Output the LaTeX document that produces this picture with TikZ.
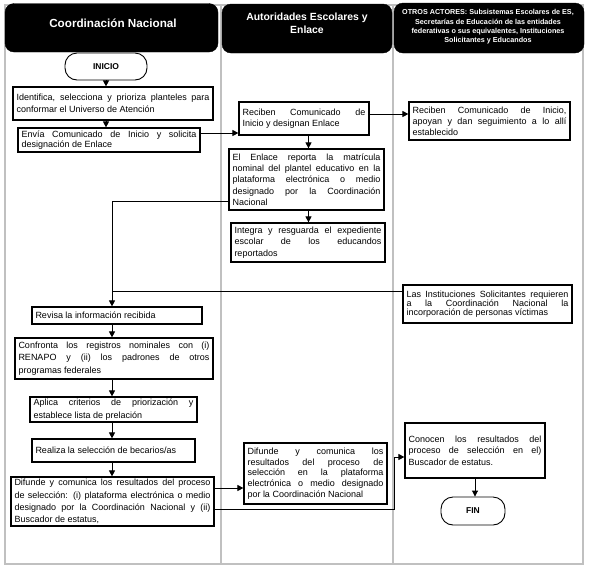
\documentclass[tikz,border=0pt]{standalone}
\usepackage{fontspec}
\setmainfont{Liberation Sans}
\usetikzlibrary{arrows.meta}
\definecolor{lanegray}{RGB}{192,192,192}
\tikzset{
  hdr/.style={fill=black, draw=black, rounded corners=9pt},
  hdrtext/.style={text=white, font=\bfseries, align=center, inner sep=0pt},
  box/.style={draw, line width=1.2pt, inner xsep=3.5pt, inner ysep=0pt, align=justify},
  term/.style={draw, line width=0.9pt, rounded corners=12pt, font=\bfseries\fontsize{8.5}{10}\selectfont},
  conn/.style={line width=0.9pt},
  arr/.style={line width=0.9pt, -{Triangle[length=6pt,width=6pt]}},
}
\begin{document}
\begin{tikzpicture}[x=1pt,y=-1pt]
\useasboundingbox (0,0) rectangle (589,571);
\fill[white] (0,0) rectangle (589,571);
% lanes
\draw[lanegray, line width=2pt] (4.5,5) rectangle (583,564);
\draw[lanegray, line width=2pt] (220.5,5) -- (220.5,564);
\draw[lanegray, line width=2pt] (392.5,5) -- (392.5,564);
% headers
\node[hdr, minimum width=213pt, minimum height=48.5pt] (h1) at (111.5,27.75) {};
\node[hdr, minimum width=170pt, minimum height=49pt] (h2) at (307,28.5) {};
\node[hdr, minimum width=190pt, minimum height=50pt] (h3) at (489,28) {};
\node[hdrtext, font=\bfseries\fontsize{11.7}{14}\selectfont] (h1t) at (113,23) {Coordinación Nacional};
\node[hdrtext, font=\bfseries\fontsize{10.4}{13}\selectfont] (h2t) at (307,23.5) {Autoridades Escolares y\\Enlace};
\node[hdrtext, font=\bfseries\fontsize{7.2}{9.3}\selectfont] (h3t) at (488,27) {OTROS ACTORES: Subsistemas Escolares de ES,\\Secretarías de Educación de las entidades\\federativas o sus equivalentes, Instituciones\\Solicitantes y Educandos};
% lane 1
\node[term, minimum width=82pt, minimum height=27pt] (ini) at (106,66.5) {INICIO};
\node[box, text width=193pt, minimum height=33pt, font=\fontsize{9}{12}\selectfont] (ident) at (113,103.5) {Identifica, selecciona y prioriza planteles para\linebreak conformar el Universo de Atención};
\node[box, text width=175pt, minimum height=24pt, font=\fontsize{9}{10.5}\selectfont] (envia) at (109,140) {Envía Comunicado de Inicio y solicita\linebreak designación de Enlace};
\node[box, text width=163pt, minimum height=17pt, font=\fontsize{9}{11}\selectfont] (revisa) at (117,315.5) {Revisa la información recibida};
\node[box, text width=191pt, minimum height=41pt, font=\fontsize{9}{12.5}\selectfont] (confr) at (114,358.5) {Confronta los registros nominales con (i)\linebreak RENAPO y (ii) los padrones de otros\linebreak programas federales};
\node[box, text width=160pt, minimum height=25pt, font=\fontsize{9}{12.5}\selectfont] (aplica) at (113.5,409.5) {Aplica criterios de priorización y\linebreak establece lista de prelación};
\node[box, text width=156pt, minimum height=23pt, font=\fontsize{9}{11}\selectfont] (realiza) at (113.5,450.5) {Realiza la selección de becarios/as};
\node[box, text width=196pt, minimum height=49pt, font=\fontsize{9}{12.3}\selectfont] (difL) at (112.5,501.5) {Difunde y comunica los resultados del proceso\linebreak de selección: (i) plataforma electrónica o medio\linebreak designado por la Coordinación Nacional y (ii)\linebreak Buscador de estatus,};
% lane 2
\node[box, text width=123pt, minimum height=33pt, font=\fontsize{9}{11.5}\selectfont] (recM) at (304,118.5) {Reciben Comunicado de\linebreak Inicio y designan Enlace};
\node[box, text width=148pt, minimum height=61pt, font=\fontsize{9}{11.3}\selectfont] (enl) at (306.5,179.5) {El Enlace reporta la matrícula\linebreak nominal del plantel educativo en la\linebreak plataforma electrónica o medio\linebreak designado por la Coordinación\linebreak Nacional};
\node[box, text width=147pt, minimum height=39pt, font=\fontsize{9}{11.2}\selectfont] (integ) at (308,242.5) {Integra y resguarda el expediente\linebreak escolar de los educandos\linebreak reportados};
\node[box, text width=136pt, minimum height=61pt, font=\fontsize{9}{10.8}\selectfont] (difM) at (315.5,473.5) {Difunde y comunica los\linebreak resultados del proceso de\linebreak selección en la plataforma\linebreak electrónica o medio designado\linebreak por la Coordinación Nacional};
% lane 3
\node[box, text width=154pt, minimum height=38pt, font=\fontsize{9}{11}\selectfont] (recR) at (489.5,121) {Reciben Comunicado de Inicio,\linebreak apoyan y dan seguimiento a lo allí\linebreak establecido};
\node[box, text width=162pt, minimum height=38pt, font=\fontsize{9}{9.3}\selectfont] (inst) at (487.5,304) {Las Instituciones Solicitantes requieren\linebreak a la Coordinación Nacional la\linebreak incorporación de personas víctimas};
\node[box, text width=133pt, minimum height=55pt, font=\fontsize{9}{11.3}\selectfont] (conoc) at (475,450.5) {Conocen los resultados del\linebreak proceso de selección en el)\linebreak Buscador de estatus.};
\node[term, minimum width=64pt, minimum height=28pt] (fin) at (473,511) {FIN};
% helper coordinates
\coordinate (xl) at (112,0);
\coordinate (xm) at (308.5,0);
\coordinate (xr) at (394,0);
\coordinate (ya) at (0,133);
\coordinate (yb) at (0,114);
\coordinate (yc) at (0,201);
\coordinate (yd) at (0,291);
\coordinate (ye) at (0,488);
\coordinate (yf) at (0,509);
\coordinate (yg) at (0,457);
% connectors
\draw[arr] (ini.south) -- (ident.north -| ini.south);
\draw[arr] (ident.south -| ini.south) -- (envia.north -| ini.south);
\draw[arr] (envia.east |- ya) -- (recM.west |- ya);
\draw[arr] (recM.east |- yb) -- (recR.west |- yb);
\draw[arr] (recM.south -| xm) -- (enl.north -| xm);
\draw[arr] (enl.south -| xm) -- (integ.north -| xm);
\draw[arr] (enl.west |- yc) -- (xl |- yc) -- (revisa.north -| xl);
\draw[conn] (inst.west |- yd) -- (xl |- yd);
\draw[arr] (revisa.south -| xl) -- (confr.north -| xl);
\draw[arr] (confr.south -| xl) -- (aplica.north -| xl);
\draw[arr] (aplica.south -| xl) -- (realiza.north -| xl);
\draw[arr] (realiza.south -| xl) -- (difL.north -| xl);
\draw[arr] (difL.east |- ye) -- (difM.west |- ye);
\draw[arr] (difL.east |- yf) -- (xr |- yf) -- (xr |- yg) -- (conoc.west |- yg);
\draw[arr] (conoc.south) -- (fin.north -| conoc.south);
\end{tikzpicture}
\end{document}
